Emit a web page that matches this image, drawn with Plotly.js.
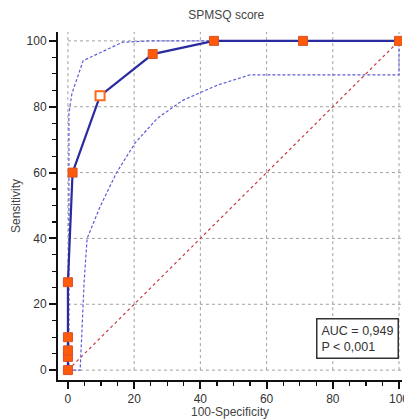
<!DOCTYPE html>
<html>
<head>
<meta charset="utf-8">
<script src="https://cdn.plot.ly/plotly-3.0.1.min.js"></script>
<style>html,body{margin:0;padding:0;background:#fff;}#chart{width:404px;height:419px;}</style>
</head>
<body>
<div id="chart"></div>
<script>
// ROC points (100-Specificity, Sensitivity)
const rocX = [0, 0, 0, 0, 0, 1.4, 9.7, 25.6, 44.1, 71.0, 100];
const rocY = [0, 4, 6, 10, 26.7, 60, 83.3, 96.0, 100, 100, 100];
// Optimal criterion point
const critX = [9.7];
const critY = [83.3];
// Upper confidence bound
const upX = [0, 0.3, 0.3, 1.2, 4.6, 10, 16.5, 25, 100];
const upY = [0, 0, 78, 84, 94, 96.5, 99.6, 100, 100];
// Lower confidence bound
const loX = [0, 3.7, 4.9, 5.8, 9.7, 14.7, 20.3, 27, 34.8, 45, 55, 100, 100];
const loY = [0, 0, 27, 40, 49.6, 60, 69, 76.5, 82, 86.5, 89.7, 89.7, 100];
// Reference diagonal
const refX = [0, 100];
const refY = [0, 100];
const tickVals = [0, 20, 40, 60, 80, 100];

const xRange = [-3, 100.9];
const yRange = [-3, 102.7];
const font = 'Liberation Sans, Arial, sans-serif';

const traces = [
  {x: refX, y: refY, mode: 'lines', line: {color: '#c83c46', width: 1.2, dash: '3px,3px'}, hoverinfo: 'skip'},
  {x: upX, y: upY, mode: 'lines', line: {color: '#5c5cd6', width: 1.2, dash: '3px,2px'}, hoverinfo: 'skip'},
  {x: loX, y: loY, mode: 'lines', line: {color: '#5c5cd6', width: 1.2, dash: '3px,2px'}, hoverinfo: 'skip'},
  {x: rocX, y: rocY, mode: 'lines+markers', line: {color: '#2b2ba0', width: 2.2},
   marker: {symbol: 'square', size: 9, color: '#ff5a0a', line: {color: '#d8502a', width: 1}}},
  {x: critX, y: critY, mode: 'markers',
   marker: {symbol: 'square', size: 9, color: '#ffffff', line: {color: '#ff6a1a', width: 2}}}
];

const gridShapes = [];
tickVals.forEach(t => {
  gridShapes.push({type: 'line', layer: 'below', xref: 'x', yref: 'y', x0: t, x1: t, y0: 0, y1: yRange[1],
    line: {color: '#a0a0a0', width: 1, dash: 'dot'}});
  gridShapes.push({type: 'line', layer: 'below', xref: 'x', yref: 'y', x0: 0, x1: xRange[1], y0: t, y1: t,
    line: {color: '#a0a0a0', width: 1, dash: 'dot'}});
});

const axisCommon = {
  showline: true, linecolor: '#111', linewidth: 2,
  ticks: 'outside', ticklen: 7, tickwidth: 2, tickcolor: '#111',
  showgrid: false, zeroline: false, tickvals: tickVals,
  ticklabeloverflow: 'allow',
  tickfont: {family: font, size: 12, color: '#333'},
  minor: {dtick: 5, ticks: 'outside', ticklen: 4, tickwidth: 1.2, tickcolor: '#111', showgrid: false}
};

const layout = {
  width: 404, height: 419,
  margin: {l: 58, r: 2, t: 32, b: 39},
  paper_bgcolor: '#fff', plot_bgcolor: '#fff',
  showlegend: false,
  title: {text: 'SPMSQ score', font: {family: font, size: 12, color: '#444'}, x: 0.56, xanchor: 'center', y: 0.975, yanchor: 'top'},
  xaxis: Object.assign({}, axisCommon, {range: xRange,
    title: {text: '100-Specificity', standoff: 4, font: {family: font, size: 12, color: '#444'}}}),
  yaxis: Object.assign({}, axisCommon, {range: yRange,
    title: {text: 'Sensitivity', standoff: 3, font: {family: font, size: 12, color: '#444'}}}),
  shapes: gridShapes,
  annotations: [{
    x: 100, y: 3.3, xref: 'x', yref: 'y', xanchor: 'right', yanchor: 'bottom',
    text: 'AUC = 0,949<br>P &lt; 0,001', align: 'left', showarrow: false,
    font: {family: font, size: 12.5, color: '#333'},
    bordercolor: '#333', borderwidth: 1.5, borderpad: 4, bgcolor: '#fff'
  }]
};

Plotly.newPlot('chart', traces, layout, {displayModeBar: false, staticPlot: true});
</script>
</body>
</html>
